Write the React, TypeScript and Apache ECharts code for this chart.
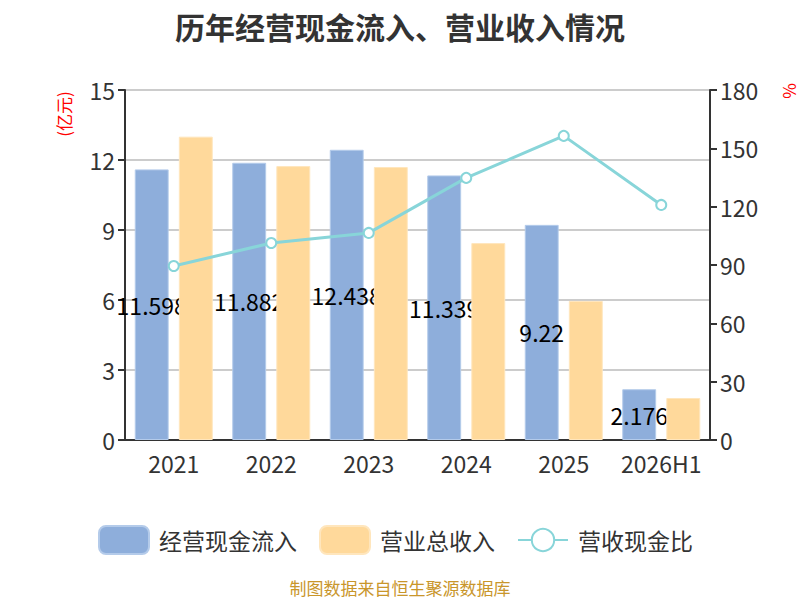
import React, { useEffect, useRef } from "react";
import * as echarts from "echarts";

const categories = ["2021", "2022", "2023", "2024", "2025", "2026H1"];
const cashInflow = [11.598, 11.882, 12.438, 11.339, 9.22, 2.176];
const revenue = [13.0, 11.74, 11.7, 8.44, 5.96, 1.8];
const ratio = [89.5, 101.3, 106.5, 134.8, 156.4, 120.9];

const FONT = "'Noto Sans CJK SC', 'Noto Sans', sans-serif";

export default function App() {
  const ref = useRef<HTMLDivElement>(null);
  useEffect(() => {
    document.body.style.margin = "0";
    const chart = echarts.init(ref.current!, null, { renderer: "svg" });
    chart.setOption({
      animation: false,
      backgroundColor: "#fff",
      textStyle: { fontFamily: FONT },
      title: {
        text: "历年经营现金流入、营业收入情况",
        left: "center",
        top: 6,
        textStyle: { fontSize: 30, fontWeight: "bold", color: "#333", fontFamily: FONT },
      },
      legend: {
        top: 520,
        left: 93,
        itemWidth: 50,
        itemHeight: 28,
        itemGap: 22,
        textStyle: { fontSize: 23, color: "#333", fontFamily: FONT, padding: [0, 0, 0, 5] },
        data: [
          { name: "经营现金流入", itemStyle: { borderRadius: 6 } },
          { name: "营业总收入", itemStyle: { borderRadius: 6 } },
          { name: "营收现金比" },
        ],
      },
      grid: { left: 125, right: 90, top: 90, bottom: 160 },
      xAxis: {
        type: "category",
        data: categories,
        axisLine: { lineStyle: { color: "#333", width: 2 } },
        axisTick: { lineStyle: { color: "#333", width: 2 }, length: 7 },
        axisLabel: { fontSize: 23, color: "#333", margin: 11, interval: 0, fontFamily: FONT },
      },
      yAxis: [
        {
          type: "value",
          min: 0,
          max: 15,
          interval: 3,
          axisLine: { show: true, lineStyle: { color: "#333", width: 2 } },
          axisTick: { show: true, lineStyle: { color: "#333", width: 2 }, length: 7 },
          axisLabel: { fontSize: 23, color: "#333", margin: 10, fontFamily: FONT },
          splitLine: { lineStyle: { color: "#ccc", width: 2 } },
        },
        {
          type: "value",
          min: 0,
          max: 180,
          interval: 30,
          axisLine: { show: true, lineStyle: { color: "#333", width: 2 } },
          axisTick: { show: true, lineStyle: { color: "#333", width: 2 }, length: 7 },
          axisLabel: { fontSize: 23, color: "#333", margin: 10, fontFamily: FONT },
          splitLine: { show: false },
        },
      ],
      series: [
        {
          name: "经营现金流入",
          type: "bar",
          z: 2,
          data: cashInflow,
          barGap: "30%",
          barCategoryGap: "20%",
          itemStyle: { color: "#8eaedb", borderColor: "#b4cbea", borderWidth: 1 },
          label: {
            show: true,
            position: "inside",
            color: "#000",
            fontSize: 23,
            fontFamily: FONT,
          },
        },
        {
          name: "营业总收入",
          type: "bar",
          z: 3,
          data: revenue,
          itemStyle: { color: "#ffd99b", borderColor: "#ffe6bd", borderWidth: 1 },
        },
        {
          name: "营收现金比",
          type: "line",
          z: 4,
          yAxisIndex: 1,
          data: ratio,
          symbol: "emptyCircle",
          symbolSize: 10,
          lineStyle: { color: "#88d5d9", width: 3 },
          itemStyle: { color: "#88d5d9", borderWidth: 2 },
        },
      ],
      graphic: [
        {
          type: "text",
          x: 63,
          y: 114,
          rotation: Math.PI / 2,
          style: {
            text: "(亿元)",
            fill: "#f00",
            fontSize: 17,
            fontFamily: FONT,
            align: "center",
            verticalAlign: "middle",
          },
        },
        {
          type: "text",
          x: 788,
          y: 91,
          rotation: Math.PI / 2,
          style: {
            text: "%",
            fill: "#f00",
            fontSize: 17,
            fontFamily: FONT,
            align: "center",
            verticalAlign: "middle",
          },
        },
        {
          type: "text",
          x: 400,
          y: 587,
          style: {
            text: "制图数据来自恒生聚源数据库",
            fill: "#c9962b",
            fontSize: 17,
            fontFamily: FONT,
            align: "center",
            verticalAlign: "middle",
          },
        },
      ],
    });
    return () => chart.dispose();
  }, []);
  return <div ref={ref} style={{ width: 800, height: 600 }} />;
}
